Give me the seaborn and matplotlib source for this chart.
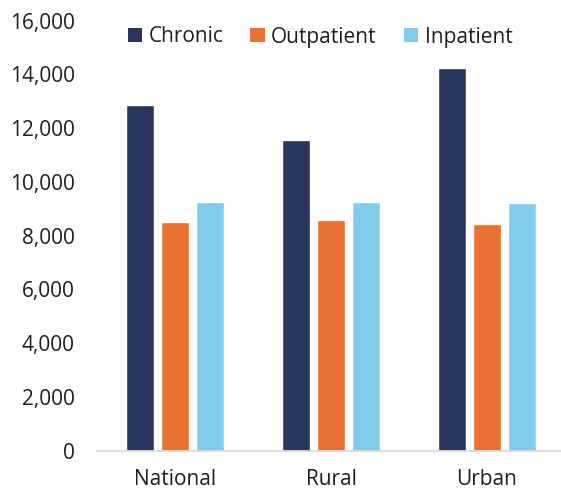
import matplotlib
matplotlib.use("Agg")
import matplotlib.pyplot as plt
import seaborn as sns
import pandas as pd
from matplotlib.patches import Patch
from matplotlib.ticker import FuncFormatter

# Average cost by area and type of care
areas = ["National", "Rural", "Urban"]
care_types = ["Chronic", "Outpatient", "Inpatient"]
chronic = [12870, 11560, 14240]
outpatient = [8500, 8580, 8410]
inpatient = [9230, 9260, 9220]
colors = ["#2B365F", "#E97132", "#83CBEB"]

df = pd.DataFrame({
    "area": areas * 3,
    "type": [care_types[0]] * 3 + [care_types[1]] * 3 + [care_types[2]] * 3,
    "value": chronic + outpatient + inpatient,
})

sns.set_theme(style="white")
plt.rcParams["font.family"] = ["Open Sans", "DejaVu Sans"]

fig = plt.figure(figsize=(5.61, 4.90), dpi=100)
ax = fig.add_axes([97 / 561, 1 - 450.5 / 490, 468 / 561, 430 / 490])

sns.barplot(data=df, x="area", y="value", hue="type", hue_order=care_types,
            palette=colors, width=0.667, gap=0.2, saturation=1,
            legend=False, ax=ax)

ax.set_xlim(-0.5, 2.5)
ax.set_ylim(0, 16000)
ax.set_yticks(range(0, 16001, 2000))
ax.yaxis.set_major_formatter(FuncFormatter(lambda v, _: f"{int(v):,}"))
ax.set_xlabel("")
ax.set_ylabel("")

for side in ["top", "right", "left"]:
    ax.spines[side].set_visible(False)
ax.spines["bottom"].set_color("#D9D9D9")
ax.spines["bottom"].set_linewidth(1.3)

ax.tick_params(axis="y", length=0, pad=16, labelsize=15, labelcolor="#1F1F1F")
ax.tick_params(axis="x", length=0, pad=13.5, labelsize=15, labelcolor="#1F1F1F")

handles = [Patch(facecolor=c, edgecolor="none", label=t) for c, t in zip(colors, care_types)]
fig.legend(handles=handles, loc="center", bbox_to_anchor=(320 / 561, 1 - 37 / 490),
           ncol=3, frameon=False, fontsize=15, handlelength=0.7, handleheight=0.7,
           handletextpad=0.3, columnspacing=1.3, labelcolor="#1F1F1F")

fig.savefig("out.png", dpi=100)
